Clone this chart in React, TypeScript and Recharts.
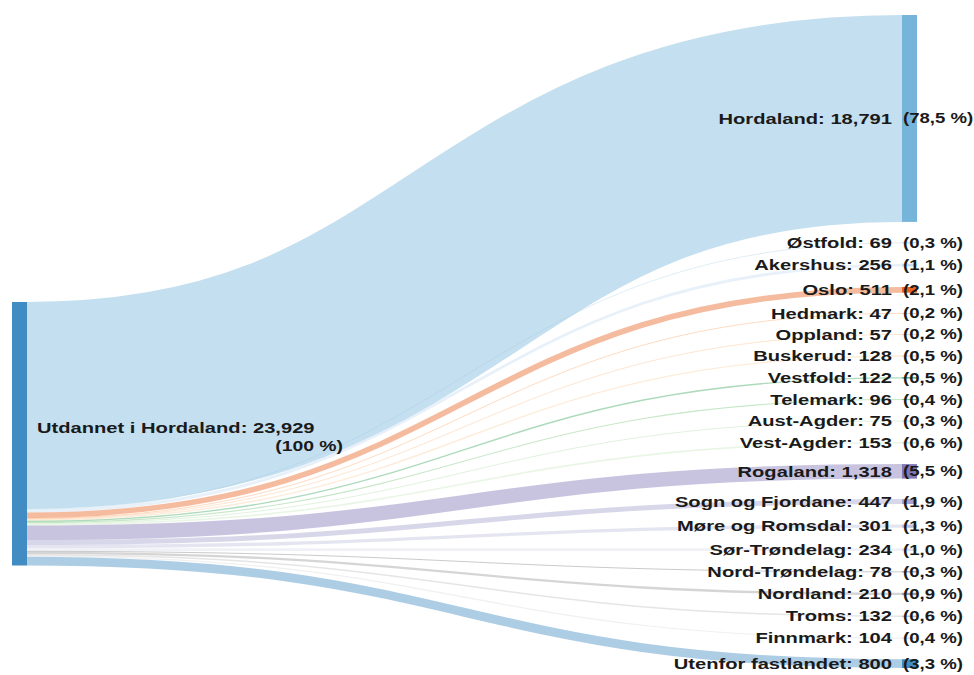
import { Sankey } from "recharts";

const sourceName = "Utdannet i Hordaland";
const regions = [
  "Hordaland", "Østfold", "Akershus", "Oslo", "Hedmark", "Oppland", "Buskerud",
  "Vestfold", "Telemark", "Aust-Agder", "Vest-Agder", "Rogaland", "Sogn og Fjordane",
  "Møre og Romsdal", "Sør-Trøndelag", "Nord-Trøndelag", "Nordland", "Troms",
  "Finnmark", "Utenfor fastlandet",
];
const counts = [
  18791, 69, 256, 511, 47, 57, 128, 122, 96, 75, 153, 1318, 447, 301, 234, 78, 210, 132, 104, 800,
];
const palette = [
  "#3182bd", "#6baed6", "#9ecae1", "#c6dbef", "#e6550d", "#fd8d3c", "#fdae6b", "#fdd0a2",
  "#31a354", "#74c476", "#a1d99b", "#c7e9c0", "#756bb1", "#9e9ac8", "#bcbddc", "#dadaeb",
  "#636363", "#969696", "#bdbdbd", "#d9d9d9",
];

// empty, unlinked slots above the source node: they only push it down the first column
const SPACERS = 14;

const total = counts.reduce((a, b) => a + b, 0);
const nodes = [
  ...Array.from({ length: SPACERS }, () => ({ name: "" })),
  { name: sourceName },
  ...regions.map((name) => ({ name })),
];
const links = counts.map((value, i) => ({ source: SPACERS, target: SPACERS + 1 + i, value }));
const data = { nodes, links };

const colorOf = (i: number) => palette[(i - SPACERS) % palette.length];
const fmt = (v: number) => v.toLocaleString("en-US");
const pct = (v: number) => (v === total ? "100" : ((v / total) * 100).toFixed(1).replace(".", ","));

const FONT = "'Liberation Sans', Arial, sans-serif";

function Label({ x, y, text, anchor, sx }: { x: number; y: number; text: string; anchor: "start" | "end"; sx: number }) {
  return (
    <text
      transform={`translate(${x},${y}) scale(${sx},1)`}
      textAnchor={anchor}
      dominantBaseline="central"
      fontFamily={FONT}
      fontWeight="bold"
      fontSize={15.5}
      fill="#1a1a1a"
    >
      {text}
    </text>
  );
}

function SankeyNode(props: any) {
  const { x, y, width, height, index, payload } = props;
  if (!payload.name) return <g />;
  const cy = y + height / 2;
  const isRoot = index === SPACERS;
  return (
    <g>
      <rect x={x} y={y} width={width} height={height} fill={colorOf(index)} fillOpacity={0.92} />
      {isRoot ? (
        <>
          <Label x={x + width + 10} y={cy - 6} text={`${payload.name}: ${fmt(payload.value)}`} anchor="start" sx={1.3} />
          <Label x={x + width + 316} y={cy + 12} text={`(${pct(payload.value)} %)`} anchor="end" sx={1.25} />
        </>
      ) : (
        <>
          <Label x={x - 10} y={cy} text={`${payload.name}: ${fmt(payload.value)}`} anchor="end" sx={1.3} />
          <Label x={x + 1} y={cy} text={`(${pct(payload.value)} %)`} anchor="start" sx={1.2} />
        </>
      )}
    </g>
  );
}

function SankeyLink(props: any) {
  const { sourceX, targetX, sourceY, targetY, sourceControlX, targetControlX, linkWidth, payload } = props;
  const t = payload.target;
  const idx = typeof t === "number" ? t : nodes.findIndex((n) => n.name === t.name);
  return (
    <path
      d={`M${sourceX},${sourceY} C${sourceControlX},${sourceY} ${targetControlX},${targetY} ${targetX},${targetY}`}
      fill="none"
      stroke={colorOf(idx)}
      strokeOpacity={0.4}
      strokeWidth={Math.max(linkWidth, 0.8)}
    />
  );
}

export default function App() {
  return (
    <div style={{ position: "absolute", left: 0, top: 0, width: 974, height: 675, background: "#fff", overflow: "hidden" }}>
      <Sankey
        width={974}
        height={675}
        data={data}
        nodeWidth={15}
        nodePadding={20.5}
        iterations={0}
        sort={false}
        align="left"
        margin={{ top: 15, right: 57, bottom: 7, left: 12 }}
        node={<SankeyNode />}
        link={<SankeyLink />}
        linkCurvature={0.5}
      />
    </div>
  );
}
